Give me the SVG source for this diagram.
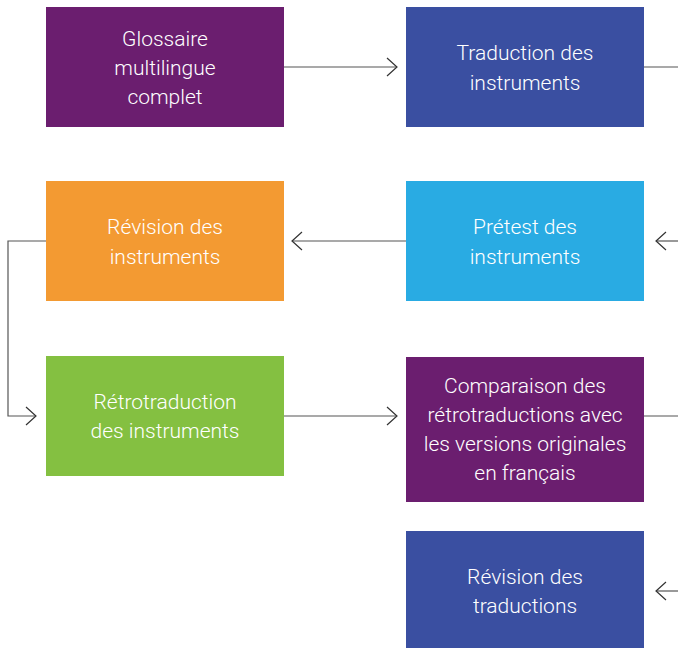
<svg xmlns="http://www.w3.org/2000/svg" width="678" height="648" viewBox="0 0 678 648">
<defs>
<style>
.t{font-family:Roboto,"Liberation Sans",sans-serif;font-weight:300;font-size:21px;fill:#fff;text-anchor:middle}
.c{fill:none;stroke:#555;stroke-width:1.2}
</style>
<marker id="ar" viewBox="0 0 12 20" refX="11" refY="10" markerWidth="12" markerHeight="20" markerUnits="userSpaceOnUse" orient="auto">
<path d="M1,1 L11,10 L1,19" fill="none" stroke="#333" stroke-width="1.2"/>
</marker>
</defs>
<rect width="678" height="648" fill="#fff"/>
<g id="connectors">
<path class="c" d="M284,67 H397" marker-end="url(#ar)"/>
<path class="c" d="M644,67 H678"/>
<path class="c" d="M678,241 H656" marker-end="url(#ar)"/>
<path class="c" d="M406,241 H292" marker-end="url(#ar)"/>
<path class="c" d="M46,241 H8 V416 H36" marker-end="url(#ar)"/>
<path class="c" d="M284,416 H397" marker-end="url(#ar)"/>
<path class="c" d="M644,416 H678"/>
<path class="c" d="M678,591 H656" marker-end="url(#ar)"/>
</g>
<g id="glossaire">
<rect x="46" y="7" width="238" height="120" fill="#6b1e6f"/>
<text class="t" x="165" y="46">Glossaire</text>
<text class="t" x="165" y="75">multilingue</text>
<text class="t" x="165" y="104">complet</text>
</g>
<g id="traduction">
<rect x="406" y="7" width="238" height="120" fill="#3a4fa1"/>
<text class="t" x="525" y="60">Traduction des</text>
<text class="t" x="525" y="90">instruments</text>
</g>
<g id="revision-instruments">
<rect x="46" y="181" width="238" height="120" fill="#f39a32"/>
<text class="t" x="165" y="234">Révision des</text>
<text class="t" x="165" y="264">instruments</text>
</g>
<g id="pretest">
<rect x="406" y="181" width="238" height="120" fill="#29abe3"/>
<text class="t" x="525" y="234">Prétest des</text>
<text class="t" x="525" y="264">instruments</text>
</g>
<g id="retrotraduction">
<rect x="46" y="356" width="238" height="120" fill="#84c041"/>
<text class="t" x="165" y="409">Rétrotraduction</text>
<text class="t" x="165" y="438">des instruments</text>
</g>
<g id="comparaison">
<rect x="406" y="357" width="238" height="145" fill="#6b1e6f"/>
<text class="t" x="525" y="393">Comparaison des</text>
<text class="t" x="525" y="422">rétrotraductions avec</text>
<text class="t" x="525" y="451">les versions originales</text>
<text class="t" x="525" y="480">en français</text>
</g>
<g id="revision-traductions">
<rect x="406" y="531" width="238" height="117" fill="#3a4fa1"/>
<text class="t" x="525" y="584">Révision des</text>
<text class="t" x="525" y="613">traductions</text>
</g>
</svg>
